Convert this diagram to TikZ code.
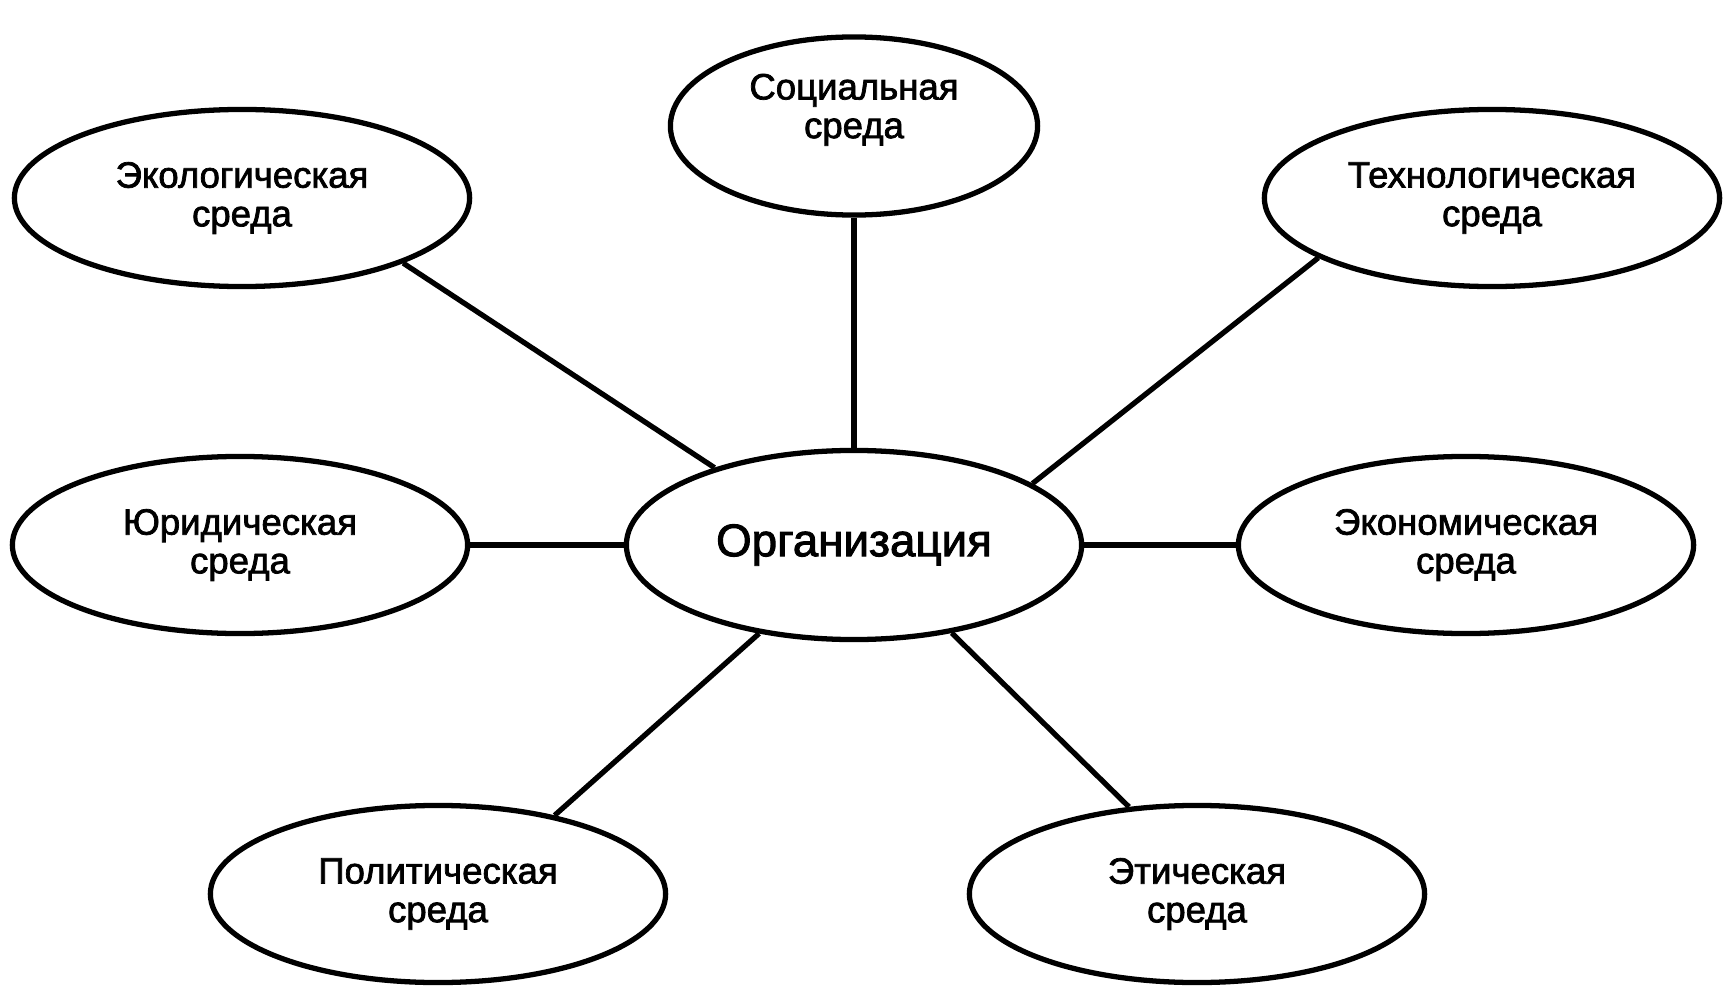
\documentclass[tikz,border=0pt]{standalone}
\usepackage{fontspec}
\setmainfont{Liberation Sans}
\newfontface\heavyfont{Liberation Sans}[FakeBold=2]
\usetikzlibrary{shapes.geometric}

\begin{document}
\begin{tikzpicture}[x=0.01cm, y=-0.01cm,
	env/.style={ellipse, draw, line width=1.5pt, minimum width=4.55cm, minimum height=1.77cm, inner sep=0pt, align=center, font=\heavyfont\fontsize{10.4}{11}\selectfont},
	link/.style={line width=1.5pt}]
	\useasboundingbox (0, 0) rectangle (1732, 1000);
	% Centre and surroundings:
	\node[env, minimum width=4.55cm, minimum height=1.89cm, font=\heavyfont\fontsize{13}{15}\selectfont] (org) at (854, 545){Организация};
	\node[env, minimum width=3.67cm, minimum height=1.78cm, text depth=0.4cm] (soc) at (854, 126){Социальная\\среда};
	\node[env] (eco) at (242, 198){Экологическая\\среда};
	\node[env] (tech) at (1492, 198){Технологическая\\среда};
	\node[env] (jur) at (240, 545){Юридическая\\среда};
	\node[env] (econ) at (1466, 545){Экономическая\\среда};
	\node[env] (pol) at (438, 894){Политическая\\среда};
	\node[env] (eth) at (1197, 894){Этическая\\среда};
	% Connections:
	\draw[link] (soc.south) -- (org.north);
	\draw[link] (eco.-22) -- (org.151);
	\draw[link] (tech.199) -- (org.19);
	\draw[link] (jur.east) -- (org.west);
	\draw[link] (econ.west) -- (org.east);
	\draw[link] (pol.34) -- (org.-137);
	\draw[link] (eth.128) -- (org.-42);
\end{tikzpicture}
\end{document}
